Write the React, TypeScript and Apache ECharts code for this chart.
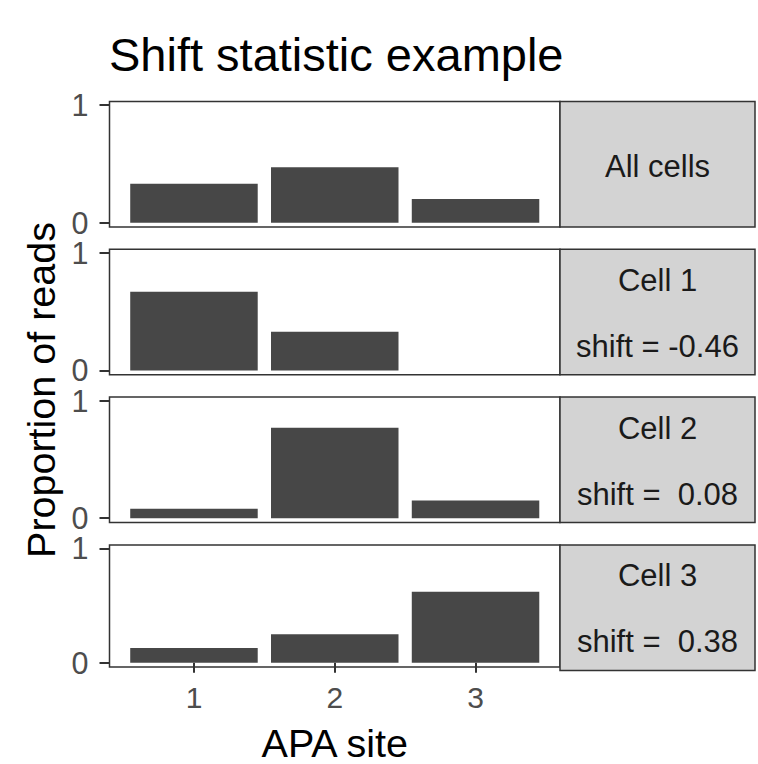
import React, { useEffect, useRef } from 'react';
import * as echarts from 'echarts';

const sites = [1, 2, 3];
const allCells = [0.33, 0.47, 0.2];
const cell1 = [0.67, 0.33, 0];
const cell2 = [0.08, 0.77, 0.15];
const cell3 = [0.13, 0.25, 0.62];
const panelValues = [allCells, cell1, cell2, cell3];
const panelNames = ['All cells', 'Cell 1', 'Cell 2', 'Cell 3'];
const shiftLabels = ['', 'shift = -0.46', 'shift =  0.08', 'shift =  0.38'];
const yTicks = [0, 1];
const titleText = 'Shift statistic example';
const xTitle = 'APA site';
const yTitle = 'Proportion of reads';

export default function App() {
  const ref = useRef<HTMLDivElement>(null);
  useEffect(() => {
    const chart = echarts.init(ref.current!, null, { renderer: 'svg' });
    const FONT = '"Liberation Sans", Arial, Helvetica, sans-serif';
    const left = 109.5;
    const width = 450.5;
    const height = 125.5;
    const stripW = 195;
    const tops = panelValues.map((_, i) => 101.5 + i * 147.8);
    const last = panelValues.length - 1;
    const stripFont = 31;

    const grids = tops.map((t) => ({
      left,
      top: t,
      width,
      height,
      show: true,
      borderColor: '#333',
      borderWidth: 1.5,
      backgroundColor: '#fff',
    }));

    const xAxes = tops.map((_, i) => ({
      gridIndex: i,
      type: 'value',
      min: 0.4,
      max: 3.6,
      show: i === last,
      axisLine: { show: false },
      splitLine: { show: false },
      axisTick: { show: true, customValues: sites, length: 10, lineStyle: { color: '#333', width: 2 } },
      axisLabel: { customValues: sites, fontSize: 30, color: '#4d4d4d', margin: 15, fontFamily: FONT },
      name: i === last ? xTitle : '',
      nameLocation: 'middle',
      nameGap: 56,
      nameTextStyle: { fontSize: 39.5, color: '#000', fontFamily: FONT },
    }));

    const yAxes = tops.map((_, i) => ({
      gridIndex: i,
      type: 'value',
      min: -0.037,
      max: 1.03,
      axisLine: { show: false },
      splitLine: { show: false },
      axisTick: { show: true, customValues: yTicks, length: 10, lineStyle: { color: '#333', width: 2 } },
      axisLabel: { customValues: yTicks, fontSize: 30.5, lineHeight: 22, color: '#4d4d4d', margin: 21, fontFamily: FONT },
    }));

    const series = panelValues.map((vals, i) => ({
      type: 'bar',
      xAxisIndex: i,
      yAxisIndex: i,
      barWidth: 127.5,
      itemStyle: { color: '#474747' },
      data: sites.map((s, j) => [s, vals[j]]),
    }));

    const graphic: any[] = [];
    tops.forEach((t, i) => {
      graphic.push({
        type: 'rect',
        shape: { x: left + width, y: t, width: stripW, height },
        style: { fill: '#d3d3d3', stroke: '#333', lineWidth: 1.5 },
        z: 10,
      });
      const cx = left + width + stripW / 2;
      const txt = (text: string, y: number) => ({
        type: 'text', x: cx, y, z: 11,
        style: { text, fontSize: stripFont, fill: '#1a1a1a', fontFamily: FONT, align: 'center', verticalAlign: 'middle', textAlign: 'center', textVerticalAlign: 'middle' },
      });
      if (shiftLabels[i]) {
        graphic.push(txt(panelNames[i], t + 31));
        graphic.push(txt(shiftLabels[i], t + 97));
      } else {
        graphic.push(txt(panelNames[i], t + height / 2 + 2));
      }
    });
    graphic.push({
      type: 'text', x: 41, y: 390, rotation: Math.PI / 2, z: 11,
      style: { text: yTitle, fontSize: 39.5, fill: '#000', fontFamily: FONT, align: 'center', verticalAlign: 'middle', textAlign: 'center', textVerticalAlign: 'middle' },
    });

    chart.setOption({
      animation: false,
      backgroundColor: '#fff',
      title: {
        text: titleText,
        left: 104,
        top: 26,
        textStyle: { fontSize: 47, fontWeight: 'normal', color: '#000', fontFamily: FONT },
      },
      grid: grids,
      xAxis: xAxes,
      yAxis: yAxes,
      series,
      graphic,
    } as any);
    return () => chart.dispose();
  }, []);
  return <div ref={ref} style={{ position: 'fixed', left: 0, top: 0, width: 758, height: 764 }} />;
}
